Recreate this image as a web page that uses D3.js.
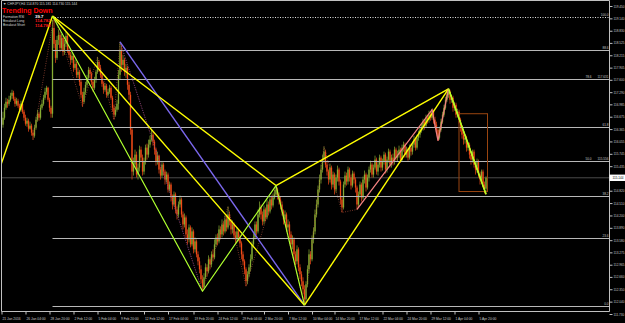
<!DOCTYPE html>
<html><head><meta charset="utf-8">
<script src="https://cdn.jsdelivr.net/npm/d3@7"></script>
<style>html,body{margin:0;padding:0;background:#000;overflow:hidden}</style>
</head><body><svg id="c" width="625" height="323"></svg>
<script>
const symbol = "CHFJPY,H4";
const firstOpen = 116.600;
const closes = [
116.475,116.650,116.900,117.050,117.000,117.100,117.200,117.275,117.125,117.000,
117.075,116.950,116.850,117.000,116.800,116.650,116.500,116.575,116.375,116.450,
116.275,116.200,116.400,116.600,116.750,116.650,116.900,117.000,117.150,117.300,
117.400,117.100,116.900,116.750,118.900,118.500,118.150,118.600,118.725,118.400,
118.650,118.300,118.500,118.700,118.350,118.225,118.100,118.200,117.900,118.000,
117.725,117.800,117.550,117.225,117.050,117.300,117.475,117.650,117.850,117.750,
117.550,117.400,117.600,117.800,118.050,117.900,117.725,117.500,117.350,117.450,
117.225,117.300,117.400,117.150,116.900,116.725,116.850,117.000,117.725,118.350,
117.975,118.100,117.800,117.900,117.475,117.225,116.350,115.300,115.475,115.725,
115.225,115.400,115.850,115.650,115.300,115.550,115.900,115.725,115.975,116.100,
116.225,116.050,115.850,115.550,115.700,115.350,115.200,115.475,115.300,115.100,
115.225,114.850,114.975,114.650,114.475,114.725,114.350,114.225,114.475,114.600,
114.225,113.975,114.150,113.725,113.600,113.900,113.475,113.800,113.350,113.550,
113.225,113.050,112.850,112.600,112.400,112.650,112.900,112.800,113.100,112.975,
113.225,113.150,113.475,113.650,113.550,113.850,113.725,113.975,113.800,114.100,
113.900,114.225,114.050,113.850,113.975,113.700,113.600,113.800,113.650,113.500,
113.225,113.050,112.850,112.550,112.725,112.900,113.100,113.475,113.650,113.975,
113.800,114.225,114.400,114.225,114.050,114.350,114.150,114.475,114.300,114.600,
114.450,114.650,114.725,114.850,114.700,114.600,114.475,114.300,114.100,114.225,
113.900,113.975,113.725,113.475,113.600,113.225,113.050,113.350,112.900,112.725,
112.550,112.350,112.100,112.475,112.850,113.225,113.100,113.600,113.800,114.225,
114.475,114.850,115.100,115.350,115.600,115.800,115.475,115.300,115.100,115.400,
114.975,115.225,114.850,115.150,115.350,115.050,114.600,114.400,114.975,115.200,
115.050,115.350,115.150,114.950,115.250,115.100,114.900,114.475,114.725,114.975,
114.650,115.100,115.225,114.900,115.150,115.350,115.475,115.225,115.400,115.600,
115.300,115.475,115.650,115.400,115.550,115.725,115.350,115.600,115.800,115.475,
115.650,115.550,115.850,115.650,115.725,115.850,115.600,115.900,115.975,115.725,
115.850,115.650,115.900,115.800,115.975,116.100,115.900,116.150,116.225,116.350,
116.400,116.550,116.450,116.650,116.600,116.725,116.650,116.800,116.600,116.475,
116.350,116.150,116.350,116.550,116.725,116.900,117.100,117.225,117.300,117.100,
117.150,116.900,116.975,116.725,116.800,116.600,116.400,116.225,116.100,116.150,
115.900,115.975,115.725,115.600,115.800,115.475,115.350,115.550,115.225,115.100,
115.300,114.975,114.870,115.144];
const highs = [
116.725,116.800,117.000,117.150,117.125,117.200,117.275,117.350,117.325,117.175,
117.150,117.125,117.000,117.075,117.050,116.850,116.725,116.650,116.625,116.550,
116.500,116.350,116.475,116.675,116.850,116.800,116.975,117.100,117.225,117.400,
117.450,117.425,117.150,116.950,119.100,119.200,118.600,118.700,118.850,118.800,
118.750,118.700,118.600,118.800,118.750,118.450,118.300,118.275,118.250,118.100,
118.050,117.900,117.850,117.600,117.300,117.400,117.550,117.725,117.925,117.900,
117.800,117.600,117.675,117.850,118.175,118.100,117.975,117.800,117.550,117.525,
117.500,117.375,117.475,117.450,117.200,116.975,116.925,117.100,117.850,118.550,
118.475,118.225,118.150,118.000,117.950,117.550,117.300,116.400,115.650,115.850,
115.800,115.500,115.950,115.925,115.725,115.650,115.975,116.000,116.100,116.200,
116.350,116.300,116.100,115.900,115.800,115.725,115.425,115.550,115.525,115.350,
115.300,115.275,115.050,115.025,114.725,114.800,114.775,114.425,114.550,114.700,
114.650,114.300,114.250,114.200,113.850,113.975,113.950,113.900,113.850,113.650,
113.600,113.300,113.150,112.950,112.700,112.750,113.000,112.975,113.200,113.150,
113.300,113.350,113.600,113.725,113.750,113.950,113.925,114.100,114.050,114.200,
114.225,114.425,114.300,114.100,114.075,114.025,113.800,113.900,113.850,113.725,
113.550,113.300,113.100,112.900,112.800,112.975,113.225,113.550,113.750,114.050,
114.050,114.350,114.550,114.475,114.300,114.450,114.400,114.600,114.550,114.675,
114.700,114.750,114.850,114.950,114.900,114.775,114.675,114.550,114.350,114.325,
114.275,114.100,114.050,113.800,113.700,113.650,113.300,113.450,113.400,112.975,
112.800,112.650,112.450,112.550,112.950,113.350,113.300,113.700,113.900,114.350,
114.600,114.950,115.225,115.475,115.725,115.925,115.850,115.550,115.350,115.500,
115.450,115.300,115.275,115.225,115.450,115.400,115.100,114.675,115.050,115.300,
115.275,115.425,115.400,115.225,115.325,115.300,115.150,114.950,114.800,115.050,
115.025,115.175,115.325,115.275,115.225,115.425,115.575,115.525,115.475,115.700,
115.650,115.550,115.725,115.700,115.625,115.800,115.775,115.675,115.875,115.850,
115.725,115.750,115.925,115.900,115.825,115.950,115.900,115.975,116.050,116.025,
115.925,115.900,115.975,116.000,116.050,116.200,116.150,116.225,116.325,116.425,
116.500,116.625,116.600,116.725,116.725,116.825,116.800,116.875,116.850,116.675,
116.550,116.400,116.425,116.625,116.800,116.975,117.175,117.300,117.375,117.350,
117.225,117.200,117.050,117.025,116.875,116.850,116.650,116.450,116.300,116.225,
116.200,116.050,116.025,115.800,115.850,115.850,115.550,115.625,115.600,115.300,
115.350,115.350,115.050,115.181];
const lows = [
116.350,116.400,116.600,116.850,116.900,116.950,117.050,117.125,117.075,116.925,
116.950,116.900,116.775,116.800,116.750,116.575,116.450,116.425,116.300,116.350,
116.200,116.100,116.150,116.350,116.550,116.575,116.600,116.850,116.950,117.100,
117.225,117.050,116.800,116.650,116.650,118.400,118.025,118.100,118.475,118.300,
118.350,118.200,118.225,118.425,118.275,118.150,117.975,118.025,117.800,117.850,
117.650,117.650,117.450,117.150,116.925,117.000,117.225,117.400,117.600,117.650,
117.475,117.300,117.350,117.525,117.750,117.800,117.650,117.425,117.250,117.300,
117.150,117.175,117.250,117.100,116.800,116.600,116.675,116.800,116.850,117.600,
117.800,117.850,117.700,117.650,117.350,117.100,116.225,115.100,115.200,115.400,
115.150,115.100,115.300,115.550,115.200,115.225,115.475,115.600,115.650,115.900,
116.050,115.950,115.725,115.450,115.475,115.250,115.100,115.150,115.200,114.975,
115.025,114.775,114.800,114.550,114.350,114.425,114.250,114.100,114.150,114.400,
114.150,113.850,113.900,113.600,113.475,113.525,113.400,113.425,113.250,113.275,
113.150,112.950,112.750,112.500,112.300,112.350,112.600,112.675,112.750,112.850,
112.900,113.050,113.100,113.400,113.450,113.500,113.600,113.650,113.700,113.750,
113.800,113.850,113.950,113.725,113.750,113.600,113.475,113.525,113.550,113.400,
113.100,112.950,112.725,112.425,112.475,112.650,112.800,113.050,113.400,113.600,
113.700,113.750,114.150,114.100,113.950,113.975,114.050,114.100,114.200,114.250,
114.350,114.400,114.600,114.675,114.600,114.475,114.350,114.200,113.975,114.000,
113.800,113.800,113.600,113.350,113.350,113.100,112.950,112.975,112.800,112.600,
112.425,112.225,111.950,112.000,112.400,112.750,112.975,113.050,113.500,113.725,
114.150,114.400,114.775,115.000,115.275,115.525,115.400,115.200,114.975,115.025,
114.850,114.900,114.725,114.775,115.050,114.950,114.475,114.275,114.350,114.900,
114.950,114.975,115.050,114.850,114.900,115.000,114.775,114.350,114.400,114.650,
114.550,114.600,115.000,114.800,114.850,115.050,115.275,115.150,115.150,115.350,
115.225,115.200,115.400,115.300,115.325,115.475,115.250,115.275,115.525,115.400,
115.400,115.450,115.475,115.575,115.550,115.650,115.525,115.550,115.800,115.650,
115.650,115.575,115.600,115.700,115.725,115.900,115.825,115.850,116.075,116.150,
116.275,116.325,116.350,116.400,116.500,116.525,116.575,116.600,116.500,116.400,
116.250,116.075,116.100,116.300,116.500,116.675,116.850,117.050,117.150,117.000,
117.025,116.800,116.825,116.650,116.650,116.500,116.300,116.125,115.975,116.000,
115.800,115.825,115.625,115.475,115.525,115.400,115.225,115.275,115.150,114.975,
115.025,114.900,114.750,114.730];

const priceTicks = [119.450,119.140,118.830,118.525,118.215,117.905,117.600,117.290,116.985,116.675,
  116.365,116.055,115.745,115.435,115.125,114.820,114.510,114.200,113.890,113.580,113.275,112.965,
  112.660,112.350,112.040,111.730];
const dateLabels = ["21 Jan 2016","26 Jan 04:00","28 Jan 20:00","2 Feb 12:00","5 Feb 04:00","9 Feb 20:00",
  "12 Feb 12:00","17 Feb 04:00","19 Feb 20:00","24 Feb 12:00","29 Feb 04:00","2 Mar 20:00","7 Mar 12:00",
  "10 Mar 04:00","14 Mar 20:00","17 Mar 12:00","22 Mar 04:00","24 Mar 20:00","29 Mar 12:00","1 Apr 04:00","5 Apr 20:00"];
const dateLabelBars = [0,16,32,48,64,79,95,111,128,144,160,175,191,207,222,238,254,270,286,302,318];

const fibLevels = [0,23.6,38.2,50,61.8,78.6,88.6,100];
const fibLevelText = ["0.0","23.6","38.2","50.0","61.8","78.6","88.6","100.0"];
const fibWithPrice = [50,78.6];
const fibLow = 111.928, fibHigh = 119.184, fibStartBar = 34;

// pattern drawings: [barIndex, price]
const yellowLines = [
  [[-1,115.40],[34,119.20]],
  [[34,119.20],[183,114.95]],
  [[34,119.20],[202,111.95]],
  [[183,114.95],[298,117.375]],
  [[202,111.95],[298,117.375]],
  [[298,117.375],[323,114.73]]
];
const greenLines = [
  [[34,119.20],[134,112.30],[183,114.95],[202,111.95]],
  [[298,117.375],[323,114.73]]
];
const purpleLine = [[79,118.55],[202,111.95]];
const pinkLine = [[237,114.35],[287,116.85],[291,116.075],[298,117.375]];
const zigzagDotted = [[21,116.10],[35,119.20],[54,116.925],[64,118.175],[75,116.60],[79,118.55],
  [134,112.30],[151,114.425],[163,112.425],[183,114.95],[202,111.95],[215,115.925],[227,114.275],
  [237,114.35],[287,116.85],[291,116.075],[298,117.375],[323,114.73]];
const purpleDotted = [[79,118.55],[134,112.30]];
const boxBars = [305,324], boxPrices = [116.75,114.80];

const rsiLabel = "Formation RSI", rsiValue = "39.7";
const breakoutLong = 114.782, breakoutShort = 114.782;
const trendText = "Trending Down";

// ---------- drawing ----------
const n = closes.length;
const opens = closes.map((c,i)=> i===0 ? firstOpen : closes[i-1]);
const bars = closes.map((c,i)=>({i, o:opens[i], c, h:Math.max(highs[i],opens[i],c), l:Math.min(lows[i],opens[i],c)}));

const x = d3.scaleLinear().domain([0,323]).range([1.5,486]);
const y = d3.scaleLinear().domain([111.730,119.450]).range([314,6]);
const RIGHT = 609.5, BOTTOM = 311.5;
const FONT = "Liberation Sans, Arial, sans-serif";

const svg = d3.select("#c");
svg.append("rect").attr("width",625).attr("height",323).attr("fill","#000");
svg.append("defs").append("clipPath").attr("id","clip")
  .append("rect").attr("x",1.5).attr("y",1).attr("width",RIGHT-1.5).attr("height",BOTTOM-1);
const g = svg.append("g").attr("clip-path","url(#clip)");

// current price line
const last = bars[n-1];
g.append("line").attr("x1",1.5).attr("x2",RIGHT).attr("y1",y(last.c)).attr("y2",y(last.c))
  .attr("stroke","#4a4a4a").attr("stroke-width",1);

// candles
const up="#86ac32", dn="#f24a17";
const cg = g.append("g");
cg.selectAll("line.w").data(bars).join("line").attr("class","w")
  .attr("x1",d=>x(d.i)).attr("x2",d=>x(d.i)).attr("y1",d=>y(d.h)).attr("y2",d=>y(d.l))
  .attr("stroke",d=>d.c>=d.o?up:dn).attr("stroke-width",0.7);
cg.selectAll("rect.b").data(bars).join("rect").attr("class","b")
  .attr("x",d=>x(d.i)-0.65).attr("width",1.3)
  .attr("y",d=>y(Math.max(d.o,d.c)))
  .attr("height",d=>Math.max(0.6,Math.abs(y(d.o)-y(d.c))))
  .attr("fill",d=>d.c>=d.o?up:dn);

// fib lines
const fibPrice = lv => fibLow + (fibHigh-fibLow)*lv/100;
fibLevels.forEach((lv,k)=>{
  const yy = Math.round(y(fibPrice(lv)))+0.5;
  g.append("line").attr("x1",x(fibStartBar)).attr("x2",RIGHT).attr("y1",yy).attr("y2",yy)
    .attr("stroke", lv===100 ? "#e0e0e0" : "#b8b8b8").attr("stroke-width",1)
    .attr("stroke-dasharray", lv===100 ? "1,1.5" : null);
  const hasP = fibWithPrice.includes(lv);
  g.append("text").attr("x", hasP ? 591.5 : 608.5).attr("y", yy-1.3)
    .attr("text-anchor","end").attr("font-family",FONT).attr("font-size",3.1)
    .attr("fill","#c8c8c8").text(fibLevelText[k]);
  if(hasP){
    g.append("text").attr("x",608.5).attr("y",yy-1.3).attr("text-anchor","end")
      .attr("font-family",FONT).attr("font-size",3.1).attr("fill","#c8c8c8")
      .text(d3.format(".3f")(fibPrice(lv)));
  }
});

const line = d3.line().x(d=>x(d[0])).y(d=>y(d[1]));
// dotted zigzags
g.append("path").attr("d",line(zigzagDotted)).attr("fill","none")
  .attr("stroke","#b0503c").attr("stroke-width",0.8).attr("stroke-dasharray","0.8,1.6");
g.append("path").attr("d",line(purpleDotted)).attr("fill","none")
  .attr("stroke","#7a40a8").attr("stroke-width",0.8).attr("stroke-dasharray","0.8,1.6");

// box
g.append("rect").attr("x",x(boxBars[0])).attr("y",y(boxPrices[0]))
  .attr("width",x(boxBars[1])-x(boxBars[0])).attr("height",y(boxPrices[1])-y(boxPrices[0]))
  .attr("fill","none").attr("stroke","#9a4510").attr("stroke-width",1);

// pattern lines
g.append("path").attr("d",line(purpleLine)).attr("fill","none").attr("stroke","#7b68ee").attr("stroke-width",1.4);
yellowLines.forEach(pts=> g.append("path").attr("d",line(pts)).attr("fill","none")
  .attr("stroke","#ffff00").attr("stroke-width",1.4));
g.append("path").attr("d",line(pinkLine)).attr("fill","none").attr("stroke","#f08080").attr("stroke-width",1.3);
greenLines.forEach(pts=> g.append("path").attr("d",line(pts)).attr("fill","none")
  .attr("stroke","#adff2f").attr("stroke-width",1.2).attr("stroke-linejoin","round"));

// frame
const frameCol="#c0c0c0";
svg.append("path").attr("d",`M1.5,${BOTTOM} V0.5 H${RIGHT} V${BOTTOM} H1.5`).attr("fill","none")
  .attr("stroke",frameCol).attr("stroke-width",1);

// right axis
const ay = svg.append("g").attr("transform",`translate(${RIGHT},0)`)
  .call(d3.axisRight(y).tickValues(priceTicks).tickFormat(d3.format(".3f")).tickSize(3).tickPadding(1));
ay.select(".domain").remove();
ay.selectAll("line").attr("stroke",frameCol);
ay.selectAll("text").attr("fill","#c8c8c8").attr("font-family",FONT).attr("font-size",3.1);

// bottom axis
const ax = svg.append("g").attr("transform",`translate(0,${BOTTOM})`)
  .call(d3.axisBottom(x).tickValues(dateLabelBars).tickFormat((d,i)=>dateLabels[i]).tickSize(3).tickPadding(3));
ax.select(".domain").remove();
ax.selectAll("line").attr("stroke",frameCol);
ax.selectAll("text").attr("fill","#c8c8c8").attr("font-family",FONT).attr("font-size",3.3)
  .attr("text-anchor","start").attr("x",0.5);

// current price tag
svg.append("rect").attr("x",RIGHT).attr("y",y(last.c)-3.2).attr("width",625-RIGHT).attr("height",6.4).attr("fill","#ffffff");
svg.append("text").attr("x",RIGHT+3).attr("y",y(last.c)+1.1).attr("font-family",FONT).attr("font-size",3.1)
  .attr("fill","#000").text(d3.format(".3f")(last.c));

// header
const f3 = d3.format(".3f");
svg.append("text").attr("x",3).attr("y",5.3).attr("font-family",FONT).attr("font-size",3.4).attr("fill","#d0d0d0")
  .text(`\u25BC ${symbol}  ${f3(last.o)} ${f3(last.h)} ${f3(last.l)} ${f3(last.c)}`);
svg.append("text").attr("x",2).attr("y",13.4).attr("font-family",FONT).attr("font-weight","bold")
  .attr("font-size",7).attr("fill","#ff0000").text(trendText);
const rows = [[rsiLabel, rsiValue, "#ffffff"],["Breakout Long", f3(breakoutLong), "#ff1a1a"],["Breakout Short", f3(breakoutShort), "#ff1a1a"]];
rows.forEach((r,k)=>{
  const by = 17.6 + k*4.3;
  svg.append("text").attr("x",3).attr("y",by).attr("font-family",FONT).attr("font-size",3.3).attr("fill","#d8d8d8").text(r[0]);
  svg.append("text").attr("x",35).attr("y",by+0.3).attr("font-family",FONT).attr("font-weight","bold")
    .attr("font-size",4.4).attr("fill",r[2]).text(r[1]);
});
</script></body></html>
